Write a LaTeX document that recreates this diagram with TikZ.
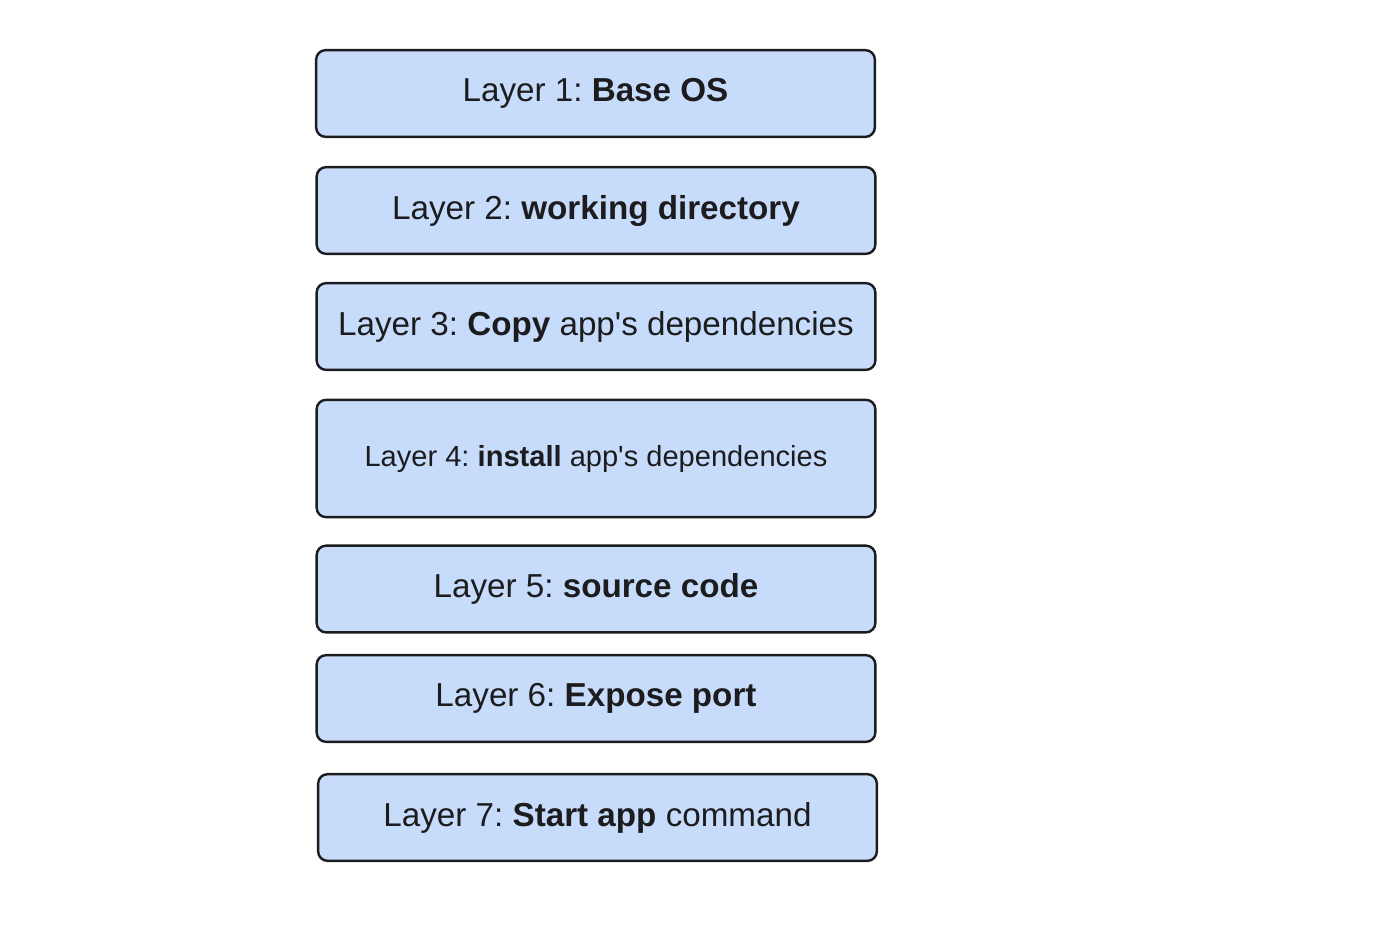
\documentclass[tikz,border=0pt]{standalone}
\usepackage{fontspec}
\setmainfont{Liberation Sans}[Ligatures=TeXOff]
\frenchspacing
\definecolor{layerblue}{RGB}{199,220,250}
\definecolor{inkline}{RGB}{28,28,30}

\begin{document}
\begin{tikzpicture}[x=0.75pt, y=-0.75pt,
    layerbox/.style={draw=inkline, fill=layerblue, line width=1.8pt,
        rounded corners=7pt, minimum width=419pt, minimum height=65pt,
        inner sep=0pt, text=inkline, font=\fontsize{24.9}{30}\selectfont}]
    % Page frame, 1400 x 935 px.
    \useasboundingbox (0,0) rectangle (1400,935);

    \node[layerbox] (base) at (595.5,93.5) {Layer 1: \textbf{Base OS}};
    \node[layerbox] (workdir) at (596,210.5) {Layer 2: \textbf{working directory}};
    \node[layerbox] (copydeps) at (596,326.5) {Layer 3: \textbf{Copy} app's dependencies};
    \node[layerbox, minimum height=88pt, font=\fontsize{21.8}{26}\selectfont]
        (installdeps) at (596,458.5) {Layer 4: \textbf{install} app's dependencies};
    \node[layerbox] (source) at (596,589) {Layer 5: \textbf{source code}};
    \node[layerbox] (port) at (596,698.5) {Layer 6: \textbf{Expose port}};
    \node[layerbox] (startcmd) at (597.5,817.5) {Layer 7: \textbf{Start app} command};
\end{tikzpicture}
\end{document}
